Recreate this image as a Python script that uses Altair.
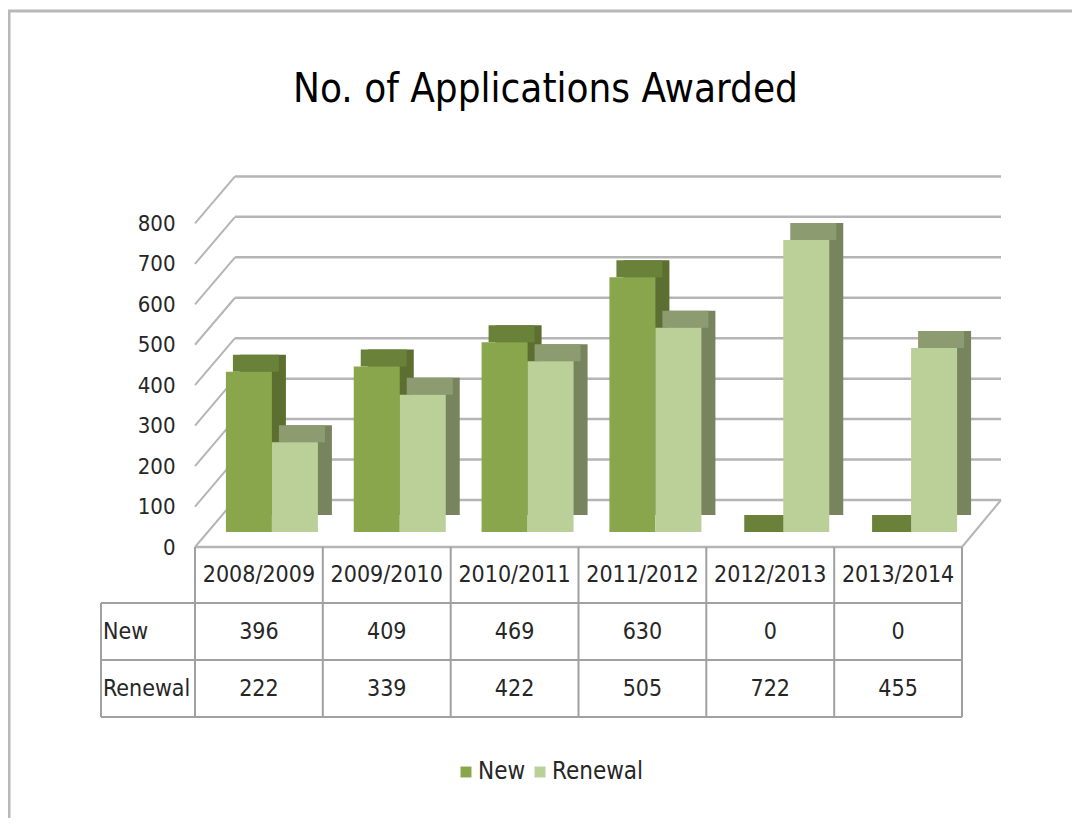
import altair as alt
import pandas as pd

# ---------------- data ----------------
years = ["2008/2009", "2009/2010", "2010/2011", "2011/2012", "2012/2013", "2013/2014"]
new_vals = [396, 409, 469, 630, 0, 0]
renewal_vals = [222, 339, 422, 505, 722, 455]
series_names = ["New", "Renewal"]
y_ticks = [0, 100, 200, 300, 400, 500, 600, 700, 800]
table_rows = ["header", "New", "Renewal"]

# ---------------- styles ----------------
FONT = "'DejaVu Sans Condensed', 'Liberation Sans Narrow', 'Liberation Sans', sans-serif"
TXT = "#262626"
GRID = "#b5b5b5"
FRONT = {"New": "#89A64D", "Renewal": "#BBCF98"}
TOP = {"New": "#6A8139", "Renewal": "#8D9C70"}
SIDE = {"New": "#5C6F30", "Renewal": "#78845E"}
FRONT_DX = {"New": -10, "Renewal": 36}
BAR_W = 46
DEPTH_X, DEPTH_Y = 14, -17

bars_df = pd.DataFrame(
    [{"year": y, "series": "New", "value": v} for y, v in zip(years, new_vals)]
    + [{"year": y, "series": "Renewal", "value": v} for y, v in zip(years, renewal_vals)]
)
grid_df = pd.DataFrame({"v": y_ticks})

table_records = []
for i, y in enumerate(years):
    table_records.append({"year": y, "row": "header", "label": y})
    table_records.append({"year": y, "row": "New", "label": str(new_vals[i])})
    table_records.append({"year": y, "row": "Renewal", "label": str(renewal_vals[i])})
table_df = pd.DataFrame(table_records)
rowlab_df = pd.DataFrame({"row": series_names, "label": series_names})

# ---------------- scales ----------------
X_SCALE = alt.Scale(domain=years, range=[0, 767], paddingInner=0, paddingOuter=0)
Y_SCALE = alt.Scale(domain=[0, 800], range=[372, 48.4], nice=False, zero=True)
ROW_SCALE = alt.Scale(domain=table_rows, range=[387, 557], paddingInner=0, paddingOuter=0)
Y_AXIS = alt.Axis(values=y_ticks, labelOffset=15, labelPadding=20, domain=False,
                  ticks=False, grid=False, title=None, labelFont=FONT,
                  labelFontSize=22, labelColor=TXT)


def X(f="year:N"):
    return alt.X(f, scale=X_SCALE, axis=None, sort=years)


def Y(f="value:Q"):
    return alt.Y(f, scale=Y_SCALE, axis=Y_AXIS)


# back wall gridlines
back_grid = alt.Chart(grid_df).mark_rule(color=GRID, strokeWidth=2.5, yOffset=-32).encode(
    y=Y("v:Q"), x=alt.value(40), x2=alt.value(806)
)
# left wall diagonals
side_grid = alt.Chart(grid_df).mark_rule(color=GRID, strokeWidth=2, yOffset=15, y2Offset=-32).encode(
    y=Y("v:Q"), y2="v:Q", x=alt.value(0), x2=alt.value(40)
)
# floor right edge
floor_edge = alt.Chart(grid_df).transform_filter(alt.datum.v == 0).mark_rule(
    color=GRID, strokeWidth=2, yOffset=15, y2Offset=-32
).encode(y=Y("v:Q"), y2="v:Q", x=alt.value(767), x2=alt.value(806))

bar_layers = []
for s in series_names:
    base = alt.Chart(bars_df).transform_filter(alt.datum.series == s)
    side = base.mark_bar(width=BAR_W, xOffset=FRONT_DX[s] + DEPTH_X, yOffset=DEPTH_Y,
                         y2Offset=DEPTH_Y, color=SIDE[s]).encode(
        x=X(), y=Y(), y2=alt.datum(0)
    )
    top = base.mark_bar(width=BAR_W, xOffset=FRONT_DX[s] + DEPTH_X // 2, yOffset=DEPTH_Y,
                        color=TOP[s]).encode(
        x=X(), y=Y(), y2="value:Q"
    )
    front = base.mark_bar(width=BAR_W, xOffset=FRONT_DX[s]).encode(
        x=X(), y=Y(), y2=alt.datum(0),
        color=alt.Color("series:N", scale=alt.Scale(domain=series_names,
                                                     range=[FRONT[n] for n in series_names]),
                        legend=alt.Legend(orient="none", legendX=259, legendY=600,
                                          direction="horizontal", title=None,
                                          symbolType="square", symbolSize=120,
                                          symbolStrokeWidth=0, labelFont=FONT,
                                          labelFontSize=24, labelColor=TXT,
                                          columnPadding=2, labelOffset=0)),
    )
    bar_layers += [side, top, front]

plot = alt.layer(back_grid, side_grid, floor_edge, *bar_layers)

# ---------------- data table ----------------
cell_text = alt.Chart(table_df).mark_text(font=FONT, fontSize=23, color=TXT).encode(
    x=X(), y=alt.Y("row:N", scale=ROW_SCALE, axis=None), text="label:N"
)
row_text = alt.Chart(rowlab_df).mark_text(font=FONT, fontSize=23, color=TXT, align="left").encode(
    x=alt.value(-92), y=alt.Y("row:N", scale=ROW_SCALE, axis=None), text="label:N"
)
table = alt.layer(cell_text, row_text)


def rule(x, x2, y, y2, color="#a0a0a0", w=2):
    return alt.Chart(grid_df).transform_filter(alt.datum.v == 0).mark_rule(
        color=color, strokeWidth=w).encode(
        x=alt.value(x), x2=alt.value(x2), y=alt.value(y), y2=alt.value(y2))


lines = [
    rule(0, 767, 387, 387, GRID, 2.5),
    rule(-94, 767, 443, 443),
    rule(-94, 767, 500, 500),
    rule(-94, 767, 557, 557),
    rule(-94, -94, 443, 557),
]
col_edges = [0, 127.8, 255.7, 383.5, 511.3, 639.2, 767]
lines += [rule(e, e, 387, 557) for e in col_edges]
# outer frame
lines += [rule(-187, 880, -149, -149, "#b8b8b8", 3), rule(-186, -186, -149, 660, "#b8b8b8", 3)]

chart = alt.layer(plot, table, *lines).resolve_scale(y="independent").properties(
    width=815, height=570,
    background="white",
    autosize=alt.AutoSizeParams(type="none"),
    padding={"left": 187, "top": 152, "right": 62, "bottom": 88},
    title=alt.TitleParams("No. of Applications Awarded", font=FONT, fontSize=40,
                          fontWeight="normal", color="black", anchor="middle",
                          frame="group", dx=-57, offset=-100),
).configure_view(strokeWidth=0, stroke="transparent")

chart.save("out.html", embed_options={"renderer": "svg", "actions": False})
